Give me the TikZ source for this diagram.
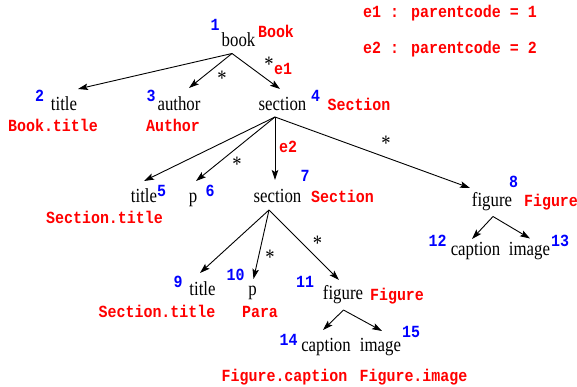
\documentclass[tikz,border=0pt]{standalone}
\usepackage{fontspec}
\newfontfamily\tmsfont[FakeStretch=0.84]{Liberation Serif}
\newfontfamily\crfont[FakeStretch=0.88]{Liberation Mono}
\usetikzlibrary{arrows.meta}
\definecolor{tred}{RGB}{255,0,0}
\definecolor{tblue}{RGB}{0,0,255}
\tikzset{
  elem/.style={font=\tmsfont\fontsize{20}{20}\selectfont, inner sep=0pt, anchor=base},
  typ/.style={font=\crfont\bfseries\fontsize{17}{17}\selectfont, text=tred, inner sep=0pt, anchor=base},
  num/.style={font=\crfont\bfseries\fontsize{17}{17}\selectfont, text=tblue, inner sep=0pt, anchor=base},
  star/.style={font=\tmsfont\fontsize{22}{22}\selectfont, inner sep=0pt, anchor=base},
  edge/.style={draw=black, line width=0.9pt, -{Stealth[length=10pt,width=6.5pt,inset=2pt]}},
}
\begin{document}
\begin{tikzpicture}[x=1pt,y=-1pt]
\useasboundingbox (0,0) rectangle (577,387);
% legend
\node[typ] (leg1) at (450,17.5) {e1 : parentcode = 1};
\node[typ] (leg2) at (450,54) {e2 : parentcode = 2};
% element labels
\node[elem] (book) at (238.5,47) {book};
\node[elem] (title2) at (64,111) {title};
\node[elem] (author3) at (179,111) {author};
\node[elem] (section4) at (282.5,110.5) {section};
\node[elem] (title5) at (144,203) {title};
\node[elem] (p6) at (193,203) {p};
\node[elem] (section7) at (277.5,203) {section};
\node[elem] (figure8) at (492,206) {figure};
\node[elem] (caption12) at (475.5,255) {caption};
\node[elem] (image13) at (529.5,255) {image};
\node[elem] (title9) at (202.5,295) {title};
\node[elem] (p10) at (252.5,295) {p};
\node[elem] (figure11) at (343,299) {figure};
\node[elem] (caption14) at (326,351) {caption};
\node[elem] (image15) at (380.5,351) {image};
% numbers
\node[num] (n1) at (215,31) {1};
\node[num] (n2) at (39.5,102) {2};
\node[num] (n3) at (151,102) {3};
\node[num] (n4) at (315.5,102) {4};
\node[num] (n5) at (161.5,196.5) {5};
\node[num] (n6) at (210,196.5) {6};
\node[num] (n7) at (305,181.5) {7};
\node[num] (n8) at (513.5,188) {8};
\node[num] (n9) at (178,287) {9};
\node[num] (n10) at (235.5,280) {10};
\node[num] (n11) at (305,287) {11};
\node[num] (n12) at (437.5,246.5) {12};
\node[num] (n13) at (560,246.5) {13};
\node[num] (n14) at (288.5,345) {14};
\node[num] (n15) at (411,337) {15};
% type names
\node[typ] (tBook) at (276,38) {Book};
\node[typ] (tBookTitle) at (53,132) {Book.title};
\node[typ] (tAuthor) at (173,132) {Author};
\node[typ] (tSection4) at (359,110.5) {Section};
\node[typ] (tSecTitle5) at (104.5,223) {Section.title};
\node[typ] (tSection7) at (342.5,203) {Section};
\node[typ] (tFigure8) at (551,207) {Figure};
\node[typ] (tSecTitle9) at (157,317) {Section.title};
\node[typ] (tPara) at (260,317) {Para};
\node[typ] (tFigure11) at (397,300) {Figure};
\node[typ] (tFigCap) at (284.5,381) {Figure.caption};
\node[typ] (tFigImg) at (413.5,381) {Figure.image};
% edge labels
\node[typ] (e1) at (283,75) {e1};
\node[typ] (e2) at (288,153) {e2};
\node[star] (s1) at (222,86) {*};
\node[star] (s2) at (269,72) {*};
\node[star] (s3) at (386,151) {*};
\node[star] (s4) at (237,172) {*};
\node[star] (s5) at (270,264) {*};
\node[star] (s6) at (317.5,250) {*};
% branch points and arrow ends
\coordinate (book-out) at (232,53.5);
\coordinate (section4-out) at (275,117);
\coordinate (section7-out) at (269,210);
\coordinate (figure8-out) at (493,216.5);
\coordinate (figure11-out) at (343.5,310);
\coordinate (title2-in) at (78,89);
\coordinate (author3-in) at (189,88);
\coordinate (section4-in) at (280,89);
\coordinate (title5-in) at (144,181);
\coordinate (p6-in) at (196,181);
\coordinate (section7-in) at (275,180);
\coordinate (figure8-in) at (470,188);
\coordinate (title9-in) at (200,273);
\coordinate (p10-in) at (253.5,279);
\coordinate (figure11-in) at (339,280);
\coordinate (caption12-in) at (472,239);
\coordinate (image13-in) at (530,238.5);
\coordinate (caption14-in) at (323,330);
\coordinate (image15-in) at (382,331);
% connectors
\draw[edge] (book-out) -- (title2-in);
\draw[edge] (book-out) -- (author3-in);
\draw[edge] (book-out) -- (section4-in);
\draw[edge] (section4-out) -- (title5-in);
\draw[edge] (section4-out) -- (p6-in);
\draw[edge] (section4-out) -- (section7-in);
\draw[edge] (section4-out) -- (figure8-in);
\draw[edge] (section7-out) -- (title9-in);
\draw[edge] (section7-out) -- (p10-in);
\draw[edge] (section7-out) -- (figure11-in);
\draw[edge] (figure8-out) -- (caption12-in);
\draw[edge] (figure8-out) -- (image13-in);
\draw[edge] (figure11-out) -- (caption14-in);
\draw[edge] (figure11-out) -- (image15-in);
\end{tikzpicture}
\end{document}
